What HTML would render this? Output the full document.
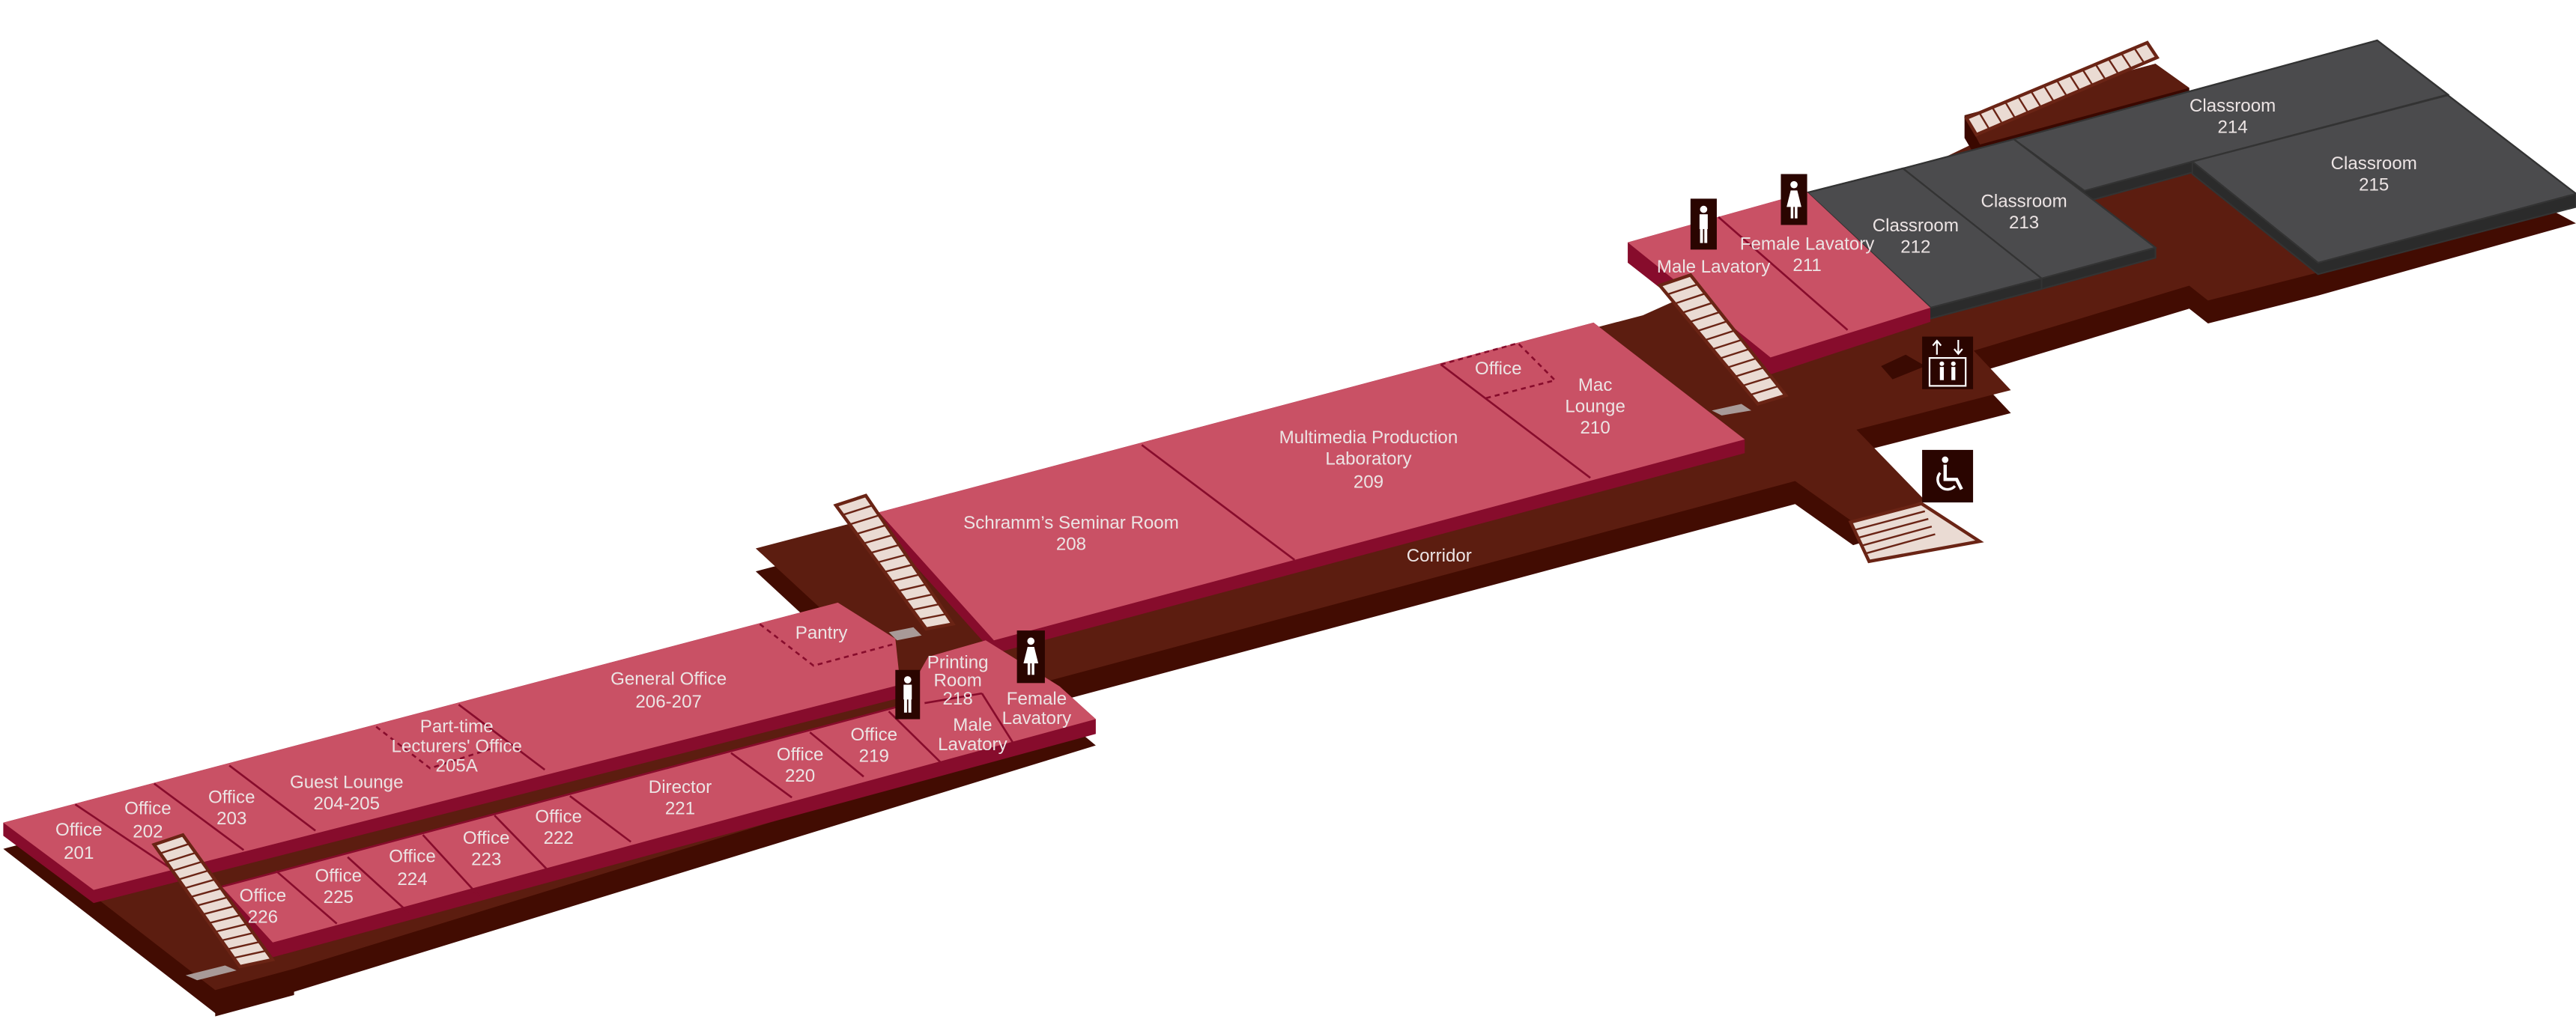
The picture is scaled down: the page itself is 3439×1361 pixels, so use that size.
<!DOCTYPE html>
<html><head><meta charset="utf-8"><style>
html,body{margin:0;padding:0;background:#fff;}
svg{display:block;}
text{font-family:"Liberation Sans",sans-serif;font-size:11px;fill:#ece4e4;text-anchor:middle;}
</style></head><body>
<svg id="s" width="3439" height="1361" viewBox="0 0 1568 620.6" preserveAspectRatio="none" xmlns="http://www.w3.org/2000/svg">
<g transform="translate(0,14)">
<polygon fill="#420c02" points="2,503 500,371 460,334 1000,192 1020,183 1080,150 1150,112 1200,88 1332,62 1440,40 1555,115 1568,122 1411,166 1344,183 1332.6,174 1201.4,213.6 1224,237.6 1130,261.7 1172,305 1128,318 1092.7,293 637,415 667,440 179,590 131,603"/>
</g>
<polygon fill="#420c02" points="131,603 179,590 179,606 131,619"/>
<polygon fill="#5c1d10" points="2,503 500,371 460,334 1000,192 1020,183 1080,150 1150,112 1200,88 1332,62 1440,40 1555,115 1568,122 1411,166 1344,183 1332.6,174 1201.4,213.6 1224,237.6 1130,261.7 1172,305 1128,318 1092.7,293 637,415 667,440 179,590 131,603"/>
<polygon fill="#3a0a02" points="1145,223 1160,216 1172,223 1152,231"/>
<polygon fill="#3a0800" points="1195.8,70.2 1312,38.8 1332.6,53.5 1332.6,66 1205.2,100 1195.8,84"/>
<polygon fill="#5c1d10" points="1195.8,70.2 1312,38.8 1332.6,53.5 1205.2,88"/>
<g stroke="#333" stroke-width="1">
<polygon fill="#2b2b2b" points="1225.8,84.8 1447,24.6 1490,57.6 1490,64 1334.5,105 1268.9,123 1225.8,92"/>
<polygon fill="#4b4b4d" points="1225.8,84.8 1447,24.6 1490,57.6 1334.5,98.4 1268.9,116.2"/>
<polygon fill="#2b2b2b" points="1158.3,102.6 1225.8,84.8 1312,150.8 1312,157 1242.7,176 1158.3,110"/>
<polygon fill="#4b4b4d" points="1158.3,102.6 1225.8,84.8 1312,150.8 1242.7,169.6"/>
<polygon fill="#2b2b2b" points="1100.2,117.3 1158.3,102.6 1242.7,169.6 1242.7,176 1175.2,194 1100.2,124"/>
<polygon fill="#4b4b4d" points="1100.2,117.3 1158.3,102.6 1242.7,169.6 1175.2,187.4"/>
<polygon fill="#2b2b2b" points="1334.5,98.4 1490,58 1568,118 1568,126 1411,167 1334.5,106"/>
<polygon fill="#4b4b4d" points="1334.5,98.4 1490,58 1568,118 1411,160"/>
</g>
<polygon fill="#870c2c" points="990.8,147.6 1100,117 1175,187.4 1175,196 1077.7,228 990.8,160"/>
<polygon fill="#c95165" points="990.8,147.6 1100,117 1175,187.4 1077.7,217.7"/>
<g stroke="#870c2c" stroke-width="1.2"><line x1="1046" y1="132.2" x2="1124.6" y2="201"/></g>
<polygon fill="#870c2c" points="535,312 970,196.5 1062,267.6 1062,276 605,398 535,320"/>
<polygon fill="#c95165" points="535,312 970,196.5 1062,267.6 605,390"/>
<g stroke="#870c2c" stroke-width="1.2" fill="none">
<line x1="695" y1="271" x2="788" y2="341"/>
<line x1="877" y1="222" x2="968" y2="291"/>
<polyline stroke-dasharray="3,2.5" points="877,222 924,209 946.5,231.6 904,242.6"/>
</g>
<polygon fill="#870c2c" points="2,501 510,367 545,389 548,425 57,550 2,509"/>
<polygon fill="#c95165" points="2,501 510,367 545,389 548,417 57,542"/>
<polygon fill="#870c2c" points="135,540 548,430 565,400 600,390 645,418 667,438 667,447 166,583"/>
<polygon fill="#c95165" points="135,540 548,430 565,400 600,390 645,418 667,438 166,574"/>
<g stroke="#870c2c" stroke-width="1.2" fill="none">
<line x1="45.8" y1="489.9" x2="102.5" y2="527.9"/>
<line x1="93.8" y1="477.2" x2="148.3" y2="517.7"/>
<line x1="139.6" y1="466.2" x2="192" y2="505.9"/>
<line x1="279.2" y1="429.1" x2="331.6" y2="468.8"/>
<polyline stroke-dasharray="3,2.5" points="229,442.6 261.8,467.9 301,455.3"/>
<polyline stroke-dasharray="3,2.5" points="462.5,380.1 495.2,405.4 545.4,391.9"/>
<line x1="168" y1="530.4" x2="205" y2="562.5"/>
<line x1="211.6" y1="522" x2="248.7" y2="555.8"/>
<line x1="257.4" y1="508.5" x2="292.3" y2="546.5"/>
<line x1="301" y1="496.6" x2="338" y2="534.6"/>
<line x1="346.9" y1="484.8" x2="384" y2="512.7"/>
<line x1="445" y1="458.6" x2="482" y2="485.7"/>
<line x1="493" y1="446" x2="525.7" y2="473"/>
<line x1="541" y1="433.3" x2="573.7" y2="465.4"/>
<line x1="597.7" y1="422.3" x2="619.5" y2="457"/>
<line x1="562.8" y1="428.2" x2="597.7" y2="422.3"/>
<line x1="135" y1="540" x2="548" y2="430"/>
</g>
<g stroke="#6a2415" stroke-width="2" fill="#eadbd3">
<polygon points="93.8,514.4 111.3,508.5 165.8,584.5 146,588.7"/>
<polygon points="508.8,307.8 527,301.8 580,380 563.8,383"/>
<polygon points="1010.3,173.8 1029,167.5 1087,240.8 1070,246"/>
<polygon points="1197,72 1203,82 1313,35 1307,26"/>
<polygon points="1126.5,318 1169.6,306.7 1205,329.7 1137.7,341.9"/>
</g>
<g fill="#a89a98">
<polygon points="113,594 137,588 144,591 120,597"/>
<polygon points="541,385 556,382 561,387 546,390"/>
<polygon points="1042,250 1060,246 1066,250 1048,253"/>
</g>
<g id="stripes" stroke="#6a2415" stroke-width="1.1"></g>
<g fill="#fff">
<rect x="545" y="408" width="15" height="30" fill="#2a0500"/>
<circle cx="552.5" cy="414" r="2.2"/><rect x="550" y="417" width="5" height="9"/><rect x="550.3" y="425" width="1.8" height="9"/><rect x="552.9" y="425" width="1.8" height="9"/>
<rect x="619" y="384" width="17" height="32" fill="#2a0500"/>
<circle cx="627.5" cy="390.5" r="2.2"/><polygon points="625.5,394 629.5,394 632,404 623,404"/><rect x="625.5" y="403" width="1.6" height="8"/><rect x="628" y="403" width="1.6" height="8"/>
<rect x="1029" y="121" width="16" height="31" fill="#2a0500"/>
<circle cx="1037" cy="127.5" r="2.2"/><rect x="1034.5" y="130.5" width="5" height="9"/><rect x="1034.8" y="139" width="1.8" height="9"/><rect x="1037.4" y="139" width="1.8" height="9"/>
<rect x="1084" y="106" width="16" height="31" fill="#2a0500"/>
<circle cx="1092" cy="112.5" r="2.2"/><polygon points="1090,116 1094,116 1096.5,126 1087.5,126"/><rect x="1090" y="125" width="1.6" height="8"/><rect x="1092.5" y="125" width="1.6" height="8"/>
<rect x="1170" y="205" width="31" height="32" fill="#2a0500"/>
<rect x="1174.5" y="218" width="22" height="17" fill="none" stroke="#fff" stroke-width="1"/>
<circle cx="1182" cy="221.5" r="1.4"/><rect x="1180.8" y="223.5" width="2.4" height="8"/>
<circle cx="1189" cy="221.5" r="1.4"/><rect x="1187.8" y="223.5" width="2.4" height="8"/>
<path d="M1179,216 V208 M1176.5,210.5 L1179,207.5 L1181.5,210.5 M1192,207 V215 M1189.5,212.5 L1192,215.5 L1194.5,212.5" stroke="#fff" stroke-width="1" fill="none"/>
<rect x="1170" y="274" width="31" height="32" fill="#2a0500"/>
<circle cx="1184" cy="280" r="2"/>
<path d="M1184,283 V292 H1191 L1194,298" stroke="#fff" stroke-width="2" fill="none"/>
<path d="M1181,288 A6,6 0 1 0 1190,296" stroke="#fff" stroke-width="1.6" fill="none"/>
</g>
<g>
<text x="48" y="509">Office</text><text x="48" y="523">201</text>
<text x="90" y="496">Office</text><text x="90" y="510">202</text>
<text x="141" y="489">Office</text><text x="141" y="502">203</text>
<text x="211" y="480">Guest Lounge</text><text x="211" y="493">204-205</text>
<text x="278" y="446">Part-time</text><text x="278" y="458">Lecturers' Office</text><text x="278" y="470">205A</text>
<text x="407" y="417">General Office</text><text x="407" y="431">206-207</text>
<text x="500" y="389">Pantry</text>
<text x="583" y="407">Printing</text><text x="583" y="418">Room</text><text x="583" y="429">218</text>
<text x="631" y="429">Female</text><text x="631" y="441">Lavatory</text>
<text x="592" y="445">Male</text><text x="592" y="457">Lavatory</text>
<text x="532" y="451">Office</text><text x="532" y="464">219</text>
<text x="487" y="463">Office</text><text x="487" y="476">220</text>
<text x="414" y="483">Director</text><text x="414" y="496">221</text>
<text x="340" y="501">Office</text><text x="340" y="514">222</text>
<text x="296" y="514">Office</text><text x="296" y="527">223</text>
<text x="251" y="525">Office</text><text x="251" y="539">224</text>
<text x="206" y="537">Office</text><text x="206" y="550">225</text>
<text x="160" y="549">Office</text><text x="160" y="562">226</text>
<text x="652" y="322">Schramm’s Seminar Room</text><text x="652" y="335">208</text>
<text x="833" y="270">Multimedia Production</text><text x="833" y="283">Laboratory</text><text x="833" y="297">209</text>
<text x="912" y="228">Office</text>
<text x="971" y="238">Mac</text><text x="971" y="251">Lounge</text><text x="971" y="264">210</text>
<text x="876" y="342">Corridor</text>
<text x="1043" y="166">Male Lavatory</text>
<text x="1100" y="152">Female Lavatory</text><text x="1100" y="165">211</text>
<text x="1166" y="141">Classroom</text><text x="1166" y="154">212</text>
<text x="1232" y="126">Classroom</text><text x="1232" y="139">213</text>
<text x="1359" y="68">Classroom</text><text x="1359" y="81">214</text>
<text x="1445" y="103">Classroom</text><text x="1445" y="116">215</text>
</g>
</svg>
<script>
(function(){
var g=document.getElementById('stripes'),ns='http://www.w3.org/2000/svg';
function st(a,b,c,d,n){for(var i=1;i<n;i++){var t=i/n;var l=document.createElementNS(ns,'line');
l.setAttribute('x1',a[0]+(d[0]-a[0])*t);l.setAttribute('y1',a[1]+(d[1]-a[1])*t);
l.setAttribute('x2',b[0]+(c[0]-b[0])*t);l.setAttribute('y2',b[1]+(c[1]-b[1])*t);g.appendChild(l);}}
st([93.8,514.4],[111.3,508.5],[165.8,584.5],[146,588.7],14);
st([508.8,307.8],[527,301.8],[580,380],[563.8,383],13);
st([1010.3,173.8],[1029,167.5],[1087,240.8],[1070,246],13);
st([1197,72],[1203,82],[1313,35],[1307,26],14);
st([1126.5,318],[1169.6,306.7],[1180,330],[1137.7,341.9],5);
})();
</script>
</body></html>
